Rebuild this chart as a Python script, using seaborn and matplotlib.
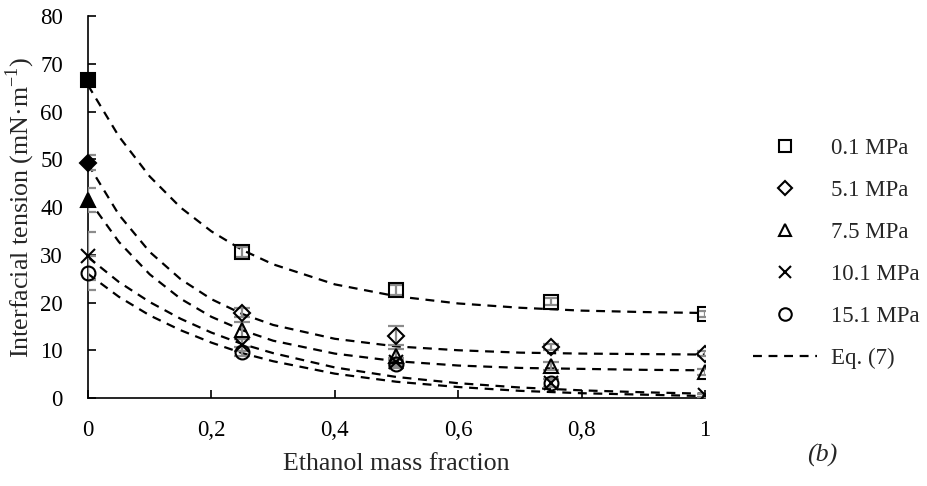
import numpy as np
import pandas as pd
import seaborn as sns
import matplotlib.pyplot as plt
from matplotlib.lines import Line2D

# measured points (mean and error bar), ethanol mass fraction on x
x_points = [0, 0.25, 0.5, 0.75, 1]
labels = ["0.1 MPa", "5.1 MPa", "7.5 MPa", "10.1 MPa", "15.1 MPa"]
p01 = [66.6, 30.6, 22.6, 20.2, 17.6]
p51 = [49.3, 17.9, 13.0, 10.7, 9.3]
p75 = [41.5, 14.2, 8.7, 6.7, 5.5]
p101 = [29.7, 11.1, 7.6, 3.2, 0.6]
p151 = [26.2, 9.7, 7.1, 3.2, np.nan]
e01 = [1.0, 1.0, 1.0, 0.8, 0.6]
e51 = [1.5, 1.0, 2.0, 0.6, 0.5]
e75 = [2.5, 1.8, 1.5, 0.8, 0.6]
e101 = [5.0, 1.2, 0.8, 0.8, 0.3]
e151 = [3.5, 1.0, 0.8, 0.8, np.nan]

# Eq. (7) curves
x_curve = [0, 0.05, 0.1, 0.15, 0.2, 0.25, 0.3, 0.4, 0.5, 0.6, 0.7, 0.8, 0.9, 1.0]
c01 = [65.5, 54.8, 46.4, 39.9, 34.9, 31.0, 28.0, 23.8, 21.3, 19.8, 18.9, 18.3, 18.0, 17.8]
c51 = [49.0, 38.4, 30.6, 24.9, 20.7, 17.6, 15.3, 12.4, 10.8, 10.0, 9.5, 9.3, 9.2, 9.1]
c75 = [41.7, 32.7, 25.9, 20.8, 17.0, 14.2, 12.0, 9.3, 7.7, 6.8, 6.3, 6.1, 5.9, 5.8]
c101 = [29.5, 24.3, 20.1, 16.6, 13.7, 11.3, 9.4, 6.4, 4.4, 3.1, 2.2, 1.6, 1.2, 0.9]
c151 = [26.0, 21.2, 17.3, 14.2, 11.6, 9.4, 7.7, 5.1, 3.4, 2.3, 1.5, 1.0, 0.7, 0.4]

markers = ["s", "D", "^", "x", "o"]
msizes = [10, 8, 10, 10, 10]
points = [p01, p51, p75, p101, p151]
errs = [e01, e51, e75, e101, e151]
curves = [c01, c51, c75, c101, c151]

sns.set_style("white")
plt.rcParams["font.family"] = ["Liberation Serif", "DejaVu Serif"]
plt.rcParams["mathtext.fontset"] = "custom"
plt.rcParams["mathtext.rm"] = "Liberation Serif"
FS = 16.5
LFS = 18.7

fig = plt.figure(figsize=(9.28, 4.86), dpi=100)
ax = fig.add_axes([88 / 928, 1 - 398 / 486, (705 - 88) / 928, (398 - 16) / 486])

curve_df = pd.concat(
    [pd.DataFrame({"x": x_curve, "y": c, "series": lab}) for c, lab in zip(curves, labels)]
)
sns.lineplot(data=curve_df, x="x", y="y", units="series", estimator=None,
             color="black", lw=1.6, ax=ax, legend=False)
for line in ax.get_lines():
    line.set_dashes((4, 3))

for y, e, m, ms in zip(points, errs, markers, msizes):
    ax.errorbar(x_points, y, yerr=e, fmt="none", ecolor="#8c8c8c", elinewidth=1.6,
                capsize=6, capthick=1.6, zorder=3)
    # open markers for ethanol mixtures
    ax.plot(x_points[1:], y[1:], ls="none", marker=m, ms=ms, mfc="none",
            mec="black", mew=1.5, zorder=4)
    # pure water points are filled (except x and o)
    fill = "black" if m in ("s", "D", "^") else "none"
    ax.plot(x_points[0], y[0], ls="none", marker=m, ms=ms, mfc=fill,
            mec="black", mew=1.5, zorder=4, clip_on=False)

ax.set_xlim(0, 1)
ax.set_ylim(0, 80)
ax.set_xticks([0, 0.2, 0.4, 0.6, 0.8, 1])
ax.set_xticklabels(["0", "0,2", "0,4", "0,6", "0,8", "1"])
ax.set_yticks(range(0, 81, 10))
ax.tick_params(direction="in", length=6, width=1.2, labelsize=FS,
               left=True, bottom=True, colors="black")
ax.tick_params(axis="x", pad=16)
ax.tick_params(axis="y", pad=18)
for side in ["top", "right"]:
    ax.spines[side].set_visible(False)
for side in ["left", "bottom"]:
    ax.spines[side].set_color("black")
    ax.spines[side].set_linewidth(1.2)

ax.set_xlabel("Ethanol mass fraction", fontsize=LFS)
ax.set_ylabel("Interfacial tension (mN·m$^{\\mathregular{-1}}$)", fontsize=LFS)
ax.xaxis.set_label_coords(0.5, -0.145)
ax.yaxis.set_label_coords(-0.083, 0.5)

handles = [Line2D([], [], ls="none", marker=m, ms=ms * 0.9, mfc="none", mec="black", mew=1.5)
           for m, ms in zip(markers, msizes)]
handles.append(Line2D([], [], color="black", lw=1.6, dashes=(4, 3)))
fig.legend(handles, labels + ["Eq. (7)"], loc="upper left",
           bbox_to_anchor=(753 / 928, 1 - 138 / 486), bbox_transform=fig.transFigure,
           frameon=False, fontsize=FS, handlelength=2.8, handletextpad=0.6,
           labelspacing=0.91, borderpad=0, borderaxespad=0)

fig.text(822 / 928, 1 - 455 / 486, "(b)", fontsize=LFS, style="italic",
         ha="center", va="center")

fig.savefig("out.png", dpi=100)
